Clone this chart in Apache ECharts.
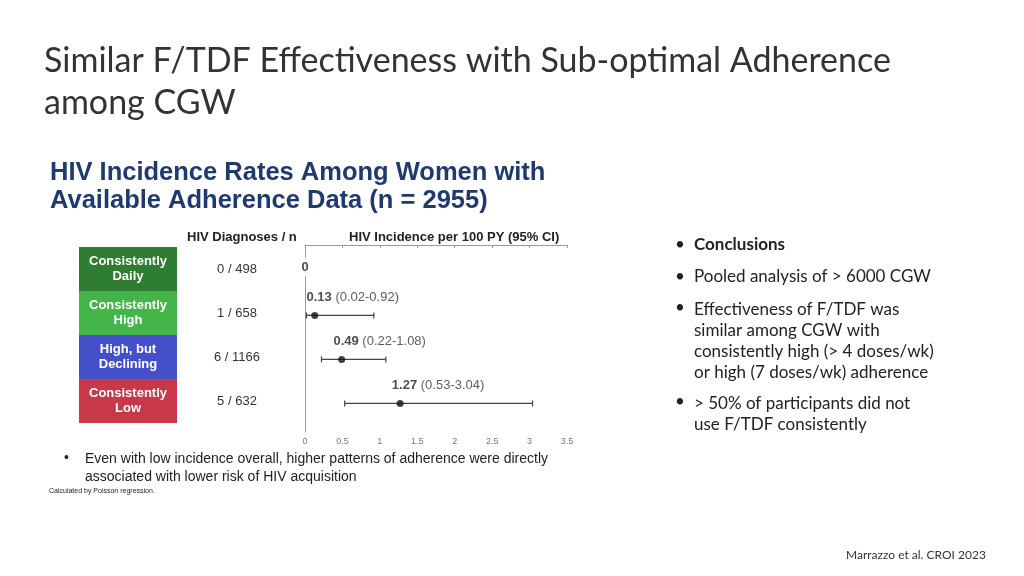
<!DOCTYPE html>
<html><head><meta charset="utf-8">
<script src="https://cdn.jsdelivr.net/npm/echarts@6/dist/echarts.min.js"></script>
<style>html,body{margin:0;background:#fff}#c{width:1024px;height:576px}</style>
</head><body><div id="c"></div>
<script>
const groups = ['Consistently\nDaily', 'Consistently\nHigh', 'High, but\nDeclining', 'Consistently\nLow'];
const groupColors = ['#2e7d32', '#43b549', '#4350c8', '#c8374a'];
const diagnoses = ['0 / 498', '1 / 658', '6 / 1166', '5 / 632'];
const incidence = [0, 0.13, 0.49, 1.27];
const ciLow = [null, 0.02, 0.22, 0.53];
const ciHigh = [null, 0.92, 1.08, 3.04];
const ciText = ['', '(0.02-0.92)', '(0.22-1.08)', '(0.53-3.04)'];

const chart = echarts.init(document.getElementById('c'));

const pts = [], bars = [];
incidence.forEach((v, i) => {
  if (i > 0) {
    pts.push({ value: [v, i + 0.6], ci: ciText[i] });
    bars.push([ciLow[i], ciHigh[i], i + 0.6]);
  }
});

chart.setOption({
  animation: false,
  textStyle: { fontFamily: 'Liberation Sans' },
  grid: [
    { left: 305, top: 245, width: 262, height: 187 },
    { left: 79, top: 247, width: 98, height: 176 }
  ],
  xAxis: [
    { gridIndex: 0, type: 'value', min: 0, max: 3.5, interval: 0.5, position: 'bottom',
      axisLine: { lineStyle: { color: '#999' } },
      axisTick: { show: true, length: 3, lineStyle: { color: '#999' } },
      splitLine: { show: false },
      axisLabel: { color: '#777', fontSize: 9, margin: 5, formatter: v => String(v) } },
    { gridIndex: 1, type: 'value', min: 0, max: 1, show: false }
  ],
  yAxis: [
    { gridIndex: 0, type: 'value', min: 0, max: 4.25, inverse: true,
      axisLine: { show: true, lineStyle: { color: '#999' } },
      axisTick: { show: false }, axisLabel: { show: false }, splitLine: { show: false } },
    { gridIndex: 1, type: 'category', data: groups, inverse: true, position: 'right',
      axisLine: { show: false }, axisTick: { show: false },
      axisLabel: { margin: 60, align: 'center', fontSize: 13, color: '#333',
        formatter: (v, i) => diagnoses[i] } }
  ],
  series: [
    { type: 'bar', xAxisIndex: 1, yAxisIndex: 1, barWidth: '100%',
      data: groups.map((g, i) => ({ value: 1, itemStyle: { color: groupColors[i] } })),
      label: { show: true, position: 'inside', color: '#fff', fontWeight: 'bold', fontSize: 13,
        lineHeight: 15, formatter: p => groups[p.dataIndex] } },
    { type: 'custom', xAxisIndex: 0, yAxisIndex: 0, data: bars,
      renderItem: (params, api) => {
        const a = api.coord([api.value(0), api.value(2)]);
        const b = api.coord([api.value(1), api.value(2)]);
        const st = { stroke: '#444', lineWidth: 1.2 };
        return { type: 'group', children: [
          { type: 'line', shape: { x1: a[0], y1: a[1], x2: b[0], y2: b[1] }, style: st },
          { type: 'line', shape: { x1: a[0], y1: a[1] - 3, x2: a[0], y2: a[1] + 3 }, style: st },
          { type: 'line', shape: { x1: b[0], y1: b[1] - 3, x2: b[0], y2: b[1] + 3 }, style: st }
        ] };
      } },
    { type: 'scatter', xAxisIndex: 0, yAxisIndex: 0, symbolSize: 7, itemStyle: { color: '#111' },
      data: pts,
      label: { show: true, position: 'top', distance: 8, offset: [38, 0], color: '#333', fontSize: 13,
        formatter: p => '{b|' + p.value[0].toFixed(2) + '} ' + p.data.ci,
        rich: { b: { fontWeight: 'bold', fontSize: 13, color: '#222' } } } },
    { type: 'scatter', xAxisIndex: 0, yAxisIndex: 0, symbolSize: 0,
      data: [[incidence[0], 0.5]],
      label: { show: true, position: 'inside', formatter: '0', fontWeight: 'bold', fontSize: 13, color: '#222',
        backgroundColor: '#fff', padding: [3, 2] } }
  ],
  graphic: [
    { type: 'text', left: 44, top: 40, style: { text: 'Similar F/TDF Effectiveness with Sub-optimal Adherence\namong CGW',
      font: '34px Lato', fill: '#333', lineHeight: 42 } },
    { type: 'text', left: 50, top: 159, style: { text: 'HIV Incidence Rates Among Women with\nAvailable Adherence Data (n = 2955)',
      font: 'bold 25.5px "Liberation Sans"', fill: '#1f3a70', lineHeight: 28 } },
    { type: 'text', left: 187, top: 231, style: { text: 'HIV Diagnoses / n', font: 'bold 13px "Liberation Sans"', fill: '#222' } },
    { type: 'text', left: 349, top: 231, style: { text: 'HIV Incidence per 100 PY (95% CI)', font: 'bold 13px "Liberation Sans"', fill: '#222' } },
    { type: 'text', left: 64, top: 451, style: { text: '•', font: '14px "Liberation Sans"', fill: '#222' } },
    { type: 'text', left: 85, top: 450, style: { text: 'Even with low incidence overall, higher patterns of adherence were directly\nassociated with lower risk of HIV acquisition',
      font: '14px "Liberation Sans"', fill: '#222', lineHeight: 18 } },
    { type: 'text', left: 49, top: 488, style: { text: 'Calculated by Poisson regression.', font: '7px "Liberation Sans"', fill: '#222' } },
    { type: 'text', left: 675, top: 236, style: { text: '•', font: '17px Lato', fill: '#222' } },
    { type: 'text', left: 694, top: 236, style: { text: 'Conclusions', font: 'bold 17px Lato', fill: '#222' } },
    { type: 'text', left: 675, top: 268, style: { text: '•', font: '17px Lato', fill: '#222' } },
    { type: 'text', left: 694, top: 268, style: { text: 'Pooled analysis of > 6000 CGW', font: '17px Lato', fill: '#222' } },
    { type: 'text', left: 675, top: 299, style: { text: '•', font: '17px Lato', fill: '#222' } },
    { type: 'text', left: 694, top: 299, style: { text: 'Effectiveness of F/TDF was\nsimilar among CGW with\nconsistently high (> 4 doses/wk)\nor high (7 doses/wk) adherence',
      font: '17px Lato', fill: '#222', lineHeight: 21 } },
    { type: 'text', left: 675, top: 393, style: { text: '•', font: '17px Lato', fill: '#222' } },
    { type: 'text', left: 694, top: 393, style: { text: '> 50% of participants did not\nuse F/TDF consistently',
      font: '17px Lato', fill: '#222', lineHeight: 21 } },
    { type: 'text', left: 846, top: 549, style: { text: 'Marrazzo et al. CROI 2023', font: '12px Lato', fill: '#333' } }
  ]
});
</script></body></html>
